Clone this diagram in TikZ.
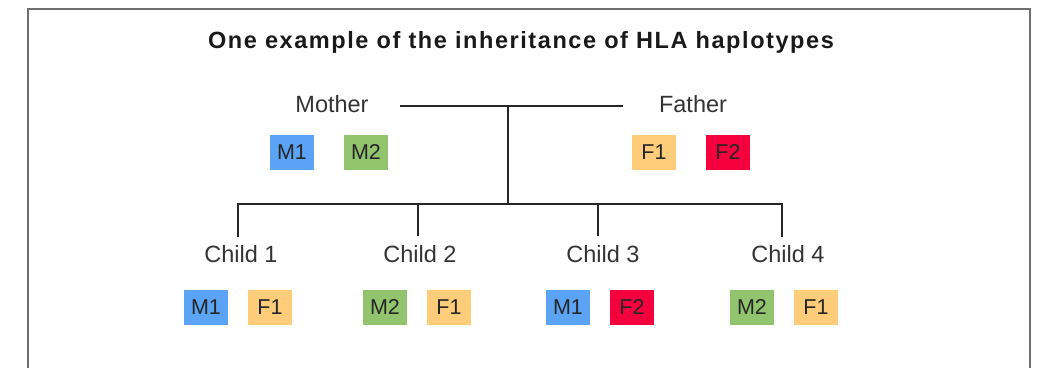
\documentclass[tikz,border=0pt]{standalone}
\usepackage{fontspec}
\setmainfont{Liberation Sans}
\newfontfamily\titlefont[LetterSpace=6.7]{Liberation Sans}
\definecolor{hlablue}{RGB}{91,164,245}
\definecolor{hlagreen}{RGB}{146,196,110}
\definecolor{hlaorange}{RGB}{255,204,122}
\definecolor{hlared}{RGB}{245,0,60}
\definecolor{labelgray}{RGB}{51,51,51}
\definecolor{framegray}{RGB}{110,110,110}
\tikzset{
  hap/.style={minimum width=44bp, minimum height=35bp, inner sep=0pt, text=black!85,
    font=\fontsize{21.5bp}{25bp}\selectfont},
  person/.style={anchor=base, inner sep=0pt, text=labelgray,
    font=\fontsize{23.5bp}{28bp}\selectfont},
  tree/.style={draw=black!85, line width=1.8bp},
}
\begin{document}
\begin{tikzpicture}[x=1bp,y=-1bp]
\useasboundingbox (0,0) rectangle (1053,388);
% frame (open at the bottom)
\draw[framegray, line width=2bp] (28,368) -- (28,9) -- (1030,9) -- (1030,368);
% title
\node[anchor=base, inner sep=0pt, text=black!90] (title) at (521,48)
  {\titlefont\bfseries\fontsize{23.5bp}{28bp}\selectfont One example of the inheritance of HLA haplotypes};
% parents
\node[person] (mother) at (332,112) {Mother};
\node[person] (father) at (693,112) {Father};
\node[hap, fill=hlablue] (m1) at (292,152) {M1};
\node[hap, fill=hlagreen] (m2) at (366,152) {M2};
\node[hap, fill=hlaorange] (f1) at (654,152) {F1};
\node[hap, fill=hlared] (f2) at (728,152) {F2};
% children
\node[person] (child1) at (241,262) {Child 1};
\node[person] (child2) at (420,262) {Child 2};
\node[person] (child3) at (603,262) {Child 3};
\node[person] (child4) at (788,262) {Child 4};
\node[hap, fill=hlablue] (c1a) at (206,307) {M1};
\node[hap, fill=hlaorange] (c1b) at (270,307) {F1};
\node[hap, fill=hlagreen] (c2a) at (385,307) {M2};
\node[hap, fill=hlaorange] (c2b) at (449,307) {F1};
\node[hap, fill=hlablue] (c3a) at (568,307) {M1};
\node[hap, fill=hlared] (c3b) at (632,307) {F2};
\node[hap, fill=hlagreen] (c4a) at (752,307) {M2};
\node[hap, fill=hlaorange] (c4b) at (816,307) {F1};
% tree connectors
\coordinate (mleft) at (400,106);
\coordinate (fright) at (623,106);
\coordinate (junction) at (508,106);
\coordinate (bar) at (508,204);
\coordinate (d1) at (238,204);
\coordinate (d2) at (418,204);
\coordinate (d3) at (598,204);
\coordinate (d4) at (782,204);
\coordinate (e1) at (238,236);
\coordinate (e2) at (418,236);
\coordinate (e3) at (598,236);
\coordinate (e4) at (782,236);
\draw[tree] (mleft) -- (fright);
\draw[tree] (junction) -- (bar);
\draw[tree, line cap=rect] (e1) -- (d1) -- (d4) -- (e4);
\draw[tree] (d2) -- (e2);
\draw[tree] (d3) -- (e3);
\end{tikzpicture}
\end{document}
